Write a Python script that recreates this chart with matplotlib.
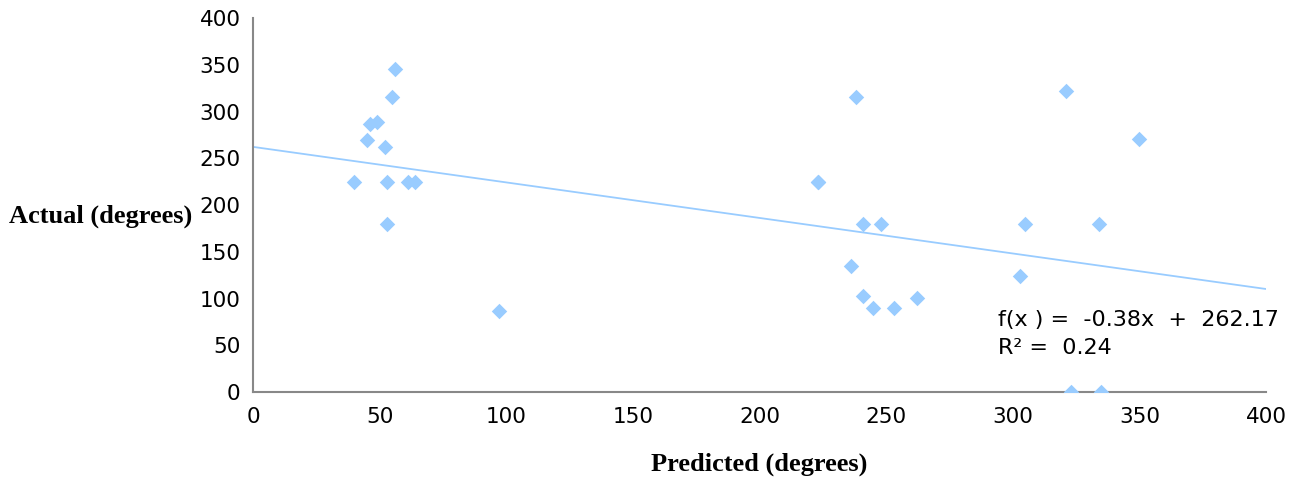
import matplotlib
matplotlib.use("Agg")
import matplotlib.pyplot as plt

# predicted vs actual direction (degrees)
predicted = [40, 45, 46, 49, 52, 55, 56, 53, 53, 61, 64, 97,
             223, 238, 223, 241, 248, 236, 241, 245, 253, 262,
             321, 350, 305, 334, 303, 323, 335]
actual = [225, 270, 287, 289, 262, 316, 346, 225, 180, 225, 225, 87,
          225, 316, 225, 180, 180, 135, 103, 90, 90, 101,
          322, 271, 180, 180, 124, 0, 0]

slope = -0.38
intercept = 262.17
r2 = 0.24

x_ticks = [0, 50, 100, 150, 200, 250, 300, 350, 400]
y_ticks = [0, 50, 100, 150, 200, 250, 300, 350, 400]

blue = "#99ccff"
tick_font = "DejaVu Sans"
label_font = "Liberation Serif"

fig = plt.figure(figsize=(12.99, 4.83), dpi=100)
ax = fig.add_axes([0.1948, 0.1884, 0.7798, 0.7743])

ax.scatter(predicted, actual, marker="D", s=62, color=blue, zorder=3, linewidths=0)
ax.plot([0, 400], [intercept, intercept + slope * 400], color=blue, lw=1.3, zorder=2)

ax.set_xlim(0, 400)
ax.set_ylim(0, 400)
ax.set_xticks(x_ticks)
ax.set_yticks(y_ticks)
for sp in ["top", "right"]:
    ax.spines[sp].set_visible(False)
for sp in ["left", "bottom"]:
    ax.spines[sp].set_color("#888888")
    ax.spines[sp].set_linewidth(1.5)
ax.tick_params(axis="y", length=0, labelsize=15.5, pad=9)
ax.tick_params(axis="x", length=0, labelsize=15.5, pad=11)
for lab in ax.get_xticklabels() + ax.get_yticklabels():
    lab.set_fontfamily(tick_font)

ax.set_xlabel("Predicted (degrees)", fontfamily=label_font, fontweight="bold",
              fontsize=19, labelpad=18)
ax.set_ylabel("Actual (degrees)", fontfamily=label_font, fontweight="bold",
              fontsize=19, rotation=0, ha="right", va="center")
ax.yaxis.set_label_coords(-0.06, 0.47)

eq = f"f(x ) =  {slope:.2f}x  +  {intercept:.2f}\nR² =  {r2:.2f}"
ax.text(294, 62, eq, fontfamily=tick_font, fontsize=16, va="center", ha="left",
        linespacing=1.5)

fig.savefig("out.png", dpi=100)
